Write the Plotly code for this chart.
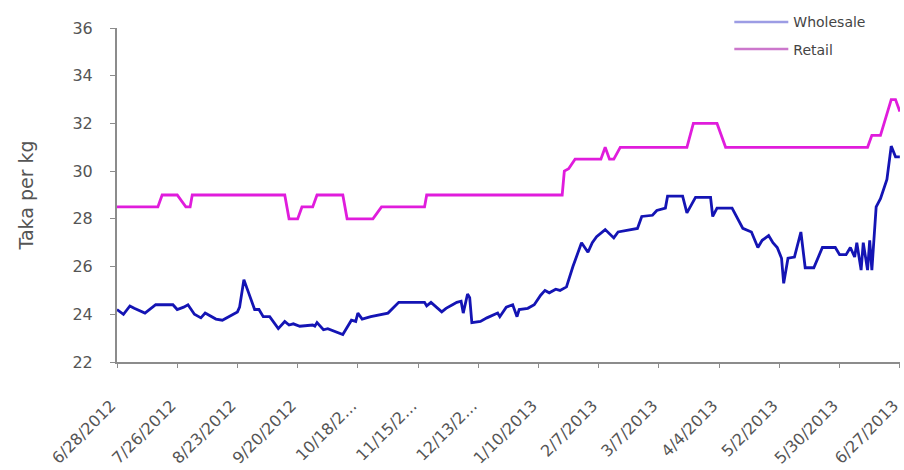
import plotly.graph_objects as go

# ---------------- data ----------------
wholesale_dates = [
    "2012-06-28", "2012-07-01", "2012-07-04", "2012-07-06", "2012-07-11", "2012-07-13",
    "2012-07-16", "2012-07-24", "2012-07-26", "2012-07-29", "2012-07-31", "2012-08-03",
    "2012-08-06", "2012-08-08", "2012-08-13", "2012-08-16", "2012-08-23", "2012-08-24",
    "2012-08-26", "2012-08-28", "2012-08-31", "2012-09-02", "2012-09-04", "2012-09-07",
    "2012-09-11", "2012-09-14", "2012-09-16", "2012-09-18", "2012-09-21", "2012-09-27",
    "2012-09-28", "2012-09-29", "2012-10-02", "2012-10-04", "2012-10-11", "2012-10-15",
    "2012-10-17", "2012-10-18", "2012-10-20", "2012-10-24", "2012-11-01", "2012-11-06",
    "2012-11-18", "2012-11-19", "2012-11-21", "2012-11-26", "2012-11-28", "2012-12-01",
    "2012-12-03", "2012-12-05", "2012-12-06", "2012-12-08", "2012-12-09", "2012-12-10",
    "2012-12-14", "2012-12-17", "2012-12-22", "2012-12-23", "2012-12-26", "2012-12-29",
    "2012-12-31", "2013-01-01", "2013-01-05", "2013-01-08", "2013-01-11", "2013-01-13",
    "2013-01-15", "2013-01-18", "2013-01-20", "2013-01-23", "2013-01-26", "2013-01-30",
    "2013-02-02", "2013-02-04", "2013-02-06", "2013-02-10", "2013-02-14", "2013-02-16",
    "2013-02-25", "2013-02-27", "2013-03-04", "2013-03-06", "2013-03-10", "2013-03-11",
    "2013-03-18", "2013-03-20", "2013-03-24", "2013-03-31", "2013-04-01", "2013-04-03",
    "2013-04-10", "2013-04-15", "2013-04-19", "2013-04-22", "2013-04-24", "2013-04-27",
    "2013-04-29", "2013-05-01", "2013-05-03", "2013-05-04", "2013-05-06", "2013-05-09",
    "2013-05-12", "2013-05-14", "2013-05-18", "2013-05-22", "2013-05-28", "2013-05-30",
    "2013-06-02", "2013-06-04", "2013-06-06", "2013-06-07", "2013-06-09", "2013-06-10",
    "2013-06-12", "2013-06-13", "2013-06-14", "2013-06-16", "2013-06-18", "2013-06-21",
    "2013-06-23", "2013-06-25", "2013-06-27",
]
wholesale_values = [
    24.2, 24.0, 24.35, 24.25, 24.05, 24.2,
    24.4, 24.4, 24.2, 24.3, 24.4, 24.0,
    23.85, 24.05, 23.8, 23.75, 24.1, 24.3,
    25.45, 24.95, 24.2, 24.2, 23.9, 23.9,
    23.4, 23.7, 23.55, 23.6, 23.5, 23.55,
    23.5, 23.65, 23.35, 23.4, 23.15, 23.75,
    23.7, 24.05, 23.8, 23.9, 24.05, 24.5,
    24.5, 24.35, 24.5, 24.1, 24.25, 24.4,
    24.5, 24.55, 24.05, 24.85, 24.7, 23.65,
    23.7, 23.85, 24.05, 23.9, 24.3, 24.4,
    23.9, 24.2, 24.25, 24.4, 24.8, 25.0,
    24.9, 25.05, 25.0, 25.15, 26.0, 27.0,
    26.6, 27.0, 27.25, 27.55, 27.2, 27.45,
    27.6, 28.1, 28.15, 28.35, 28.45, 28.95,
    28.95, 28.25, 28.9, 28.9, 28.1, 28.45,
    28.45, 27.6, 27.45, 26.8, 27.1, 27.3,
    27.0, 26.8, 26.35, 25.3, 26.35, 26.4,
    27.45, 25.95, 25.95, 26.8, 26.8, 26.5,
    26.5, 26.8, 26.4, 27.0, 25.85, 27.0,
    25.85, 27.1, 25.85, 28.5, 28.85, 29.65,
    31.05, 30.6, 30.6,
]

retail_dates = [
    "2012-06-28", "2012-07-17", "2012-07-19", "2012-07-26", "2012-07-30", "2012-08-01",
    "2012-08-02", "2012-09-14", "2012-09-16", "2012-09-20", "2012-09-22", "2012-09-27",
    "2012-09-29", "2012-10-11", "2012-10-13", "2012-10-25", "2012-10-29", "2012-11-18",
    "2012-11-19", "2013-01-21", "2013-01-22", "2013-01-24", "2013-01-27", "2013-02-08",
    "2013-02-10", "2013-02-12", "2013-02-14", "2013-02-17", "2013-03-20", "2013-03-23",
    "2013-04-03", "2013-04-07", "2013-06-12", "2013-06-14", "2013-06-18", "2013-06-23",
    "2013-06-25", "2013-06-27",
]
retail_values = [
    28.5, 28.5, 29, 29, 28.5, 28.5,
    29, 29, 28, 28, 28.5, 28.5,
    29, 29, 28, 28, 28.5, 28.5,
    29, 29, 30, 30.1, 30.5, 30.5,
    31, 30.5, 30.5, 31, 31, 32,
    32, 31, 31, 31.5, 31.5, 33,
    33, 32.5,
]

tick_dates = [
    "2012-06-28", "2012-07-26", "2012-08-23", "2012-09-20", "2012-10-18", "2012-11-15",
    "2012-12-13", "2013-01-10", "2013-02-07", "2013-03-07", "2013-04-04", "2013-05-02",
    "2013-05-30", "2013-06-27",
]
tick_labels = [
    "6/28/2012", "7/26/2012", "8/23/2012", "9/20/2012", "10/18/2\u2026", "11/15/2\u2026",
    "12/13/2\u2026", "1/10/2013", "2/7/2013", "3/7/2013", "4/4/2013", "5/2/2013",
    "5/30/2013", "6/27/2013",
]
y_ticks = [22, 24, 26, 28, 30, 32, 34, 36]

# ---------------- styles ----------------
WHOLESALE_COLOR = "#1414B4"
RETAIL_COLOR = "#E01CDC"
FONT = "DejaVu Sans"
AXIS_GRAY = "#8C8C8C"

fig = go.Figure()

fig.add_trace(go.Scatter(
    x=wholesale_dates, y=wholesale_values, mode="lines", name="Wholesale",
    line=dict(color=WHOLESALE_COLOR, width=2.8), showlegend=False,
))
fig.add_trace(go.Scatter(
    x=retail_dates, y=retail_values, mode="lines", name="Retail",
    line=dict(color=RETAIL_COLOR, width=2.8), showlegend=False,
))
# legend entries (lighter swatches, as in the reference)
fig.add_trace(go.Scatter(
    x=[None], y=[None], mode="lines", name="Wholesale", legendgroup="w",
    line=dict(color="#9C9CE4", width=2.5),
))
fig.add_trace(go.Scatter(
    x=[None], y=[None], mode="lines", name="Retail", legendgroup="r",
    line=dict(color="#CC77CC", width=2.5),
))

fig.update_layout(
    width=904, height=470,
    margin=dict(l=117, r=4, t=28, b=108, pad=0, autoexpand=False),
    paper_bgcolor="white", plot_bgcolor="white",
    font=dict(family=FONT, color="#555555", size=14),
    legend=dict(
        x=0.782, y=1.065, xanchor="left", yanchor="top",
        bgcolor="rgba(0,0,0,0)", font=dict(size=14, color="#444444", family=FONT),
        itemwidth=54, traceorder="grouped", tracegroupgap=6,
    ),
    xaxis=dict(
        type="date",
        range=["2012-06-28", "2013-06-27 02:00"],
        tickmode="array", tickvals=tick_dates, ticktext=tick_labels,
        tickangle=-45, tickfont=dict(size=16, color="#555555", family=FONT),
        ticklabeloverflow="allow", automargin=False, ticklabelshift=-6,
        showline=True, linecolor=AXIS_GRAY, linewidth=2,
        ticks="outside", ticklen=4, tickcolor=AXIS_GRAY,
        showgrid=False, zeroline=False, ticklabelstandoff=22,
    ),
    yaxis=dict(
        range=[22, 36], tickvals=y_ticks, automargin=False,
        tickfont=dict(size=16, color="#555555", family=FONT),
        showline=True, linecolor=AXIS_GRAY, linewidth=2,
        ticks="outside", ticklen=5, tickcolor=AXIS_GRAY,
        showgrid=False, zeroline=False, ticklabelstandoff=14,
        title=dict(text="Taka per kg", font=dict(size=19, color="#555555", family=FONT),
                   standoff=34),
    ),
)

fig.write_html("out.html")
